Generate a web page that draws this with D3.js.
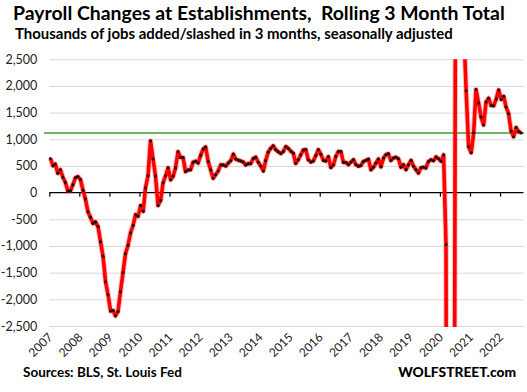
<!DOCTYPE html>
<html>
<head>
<meta charset="utf-8">
<script src="https://cdn.jsdelivr.net/npm/d3@7/dist/d3.min.js"></script>
<style>
  html, body { margin: 0; padding: 0; background: #fff; }
  svg { display: block; }
  text { font-family: Lato, "Open Sans", "DejaVu Sans", sans-serif; }
</style>
</head>
<body>
<svg id="chart" width="527" height="392"></svg>
<script>
// ---- Data (thousands of jobs, rolling 3-month total, monthly from Jan 2007) ----
const startYear = 2007;
const startMonth = 0; // January
const rolling3MonthTotal = [
  // 2007
  640, 505, 535, 365, 430, 290, 195, 30, 35, 150, 280, 300,
  // 2008
  245, 45, -120, -360, -460, -575, -548, -635, -920, -1192, -1670, -1915,
  // 2009
  -2220, -2210, -2310, -2228, -1860, -1495, -1145, -985, -755, -615, -412, -444,
  // 2010
  -243, -350, 88, 318, 970, 630, 310, -240, -145, 185, 318, 465,
  // 2011
  240, 310, 462, 768, 660, 658, 395, 425, 430, 572, 590, 555,
  // 2012
  700, 818, 858, 585, 430, 270, 336, 408, 520, 520, 500, 555,
  // 2013
  600, 722, 630, 610, 595, 575, 520, 545, 545, 642, 665, 570,
  // 2014
  498, 408, 600, 760, 830, 878, 805, 765, 735, 770, 865, 830,
  // 2015
  778, 738, 550, 615, 705, 798, 808, 618, 575, 592, 695, 805,
  // 2016
  720, 605, 592, 675, 472, 520, 680, 772, 770, 568, 566, 526,
  // 2017
  575, 618, 526, 495, 510, 585, 605, 628, 430, 475, 555, 630,
  // 2018
  485, 648, 712, 728, 605, 650, 662, 636, 476, 524, 432, 524,
  // 2019
  605, 495, 432, 368, 465, 476, 463, 585, 615, 600, 670, 637,
  // 2020
  590, 708, -970, -21887, -19343, -12814, 9405, 8155, 4252, 3158, 1910, 861,
  // 2021
  749, 1124, 1934, 1682, 1418, 1270, 1700, 1770, 1633, 1628, 1755, 1925,
  // 2022
  1748, 1805, 1608, 1480, 1157, 1050, 1220, 1147, 1118
];
const yearLabels = ["2007","2008","2009","2010","2011","2012","2013","2014","2015",
                    "2016","2017","2018","2019","2020","2021","2022"];
const yTickValues = [-2500, -2000, -1500, -1000, -500, 0, 500, 1000, 1500, 2000, 2500];
const titleText = "Payroll Changes at Establishments,\u00a0 Rolling 3 Month Total";
const subtitleText = "Thousands of jobs added/slashed in 3 months, seasonally adjusted";
const sourceText = "Sources: BLS, St. Louis Fed";
const brandText = "WOLFSTREET.com";

// ---- Layout ----
const svg = d3.select("#chart");
const plotLeft = 49.3, plotRight = 522.5, plotTop = 59.3, plotBottom = 326;

const points = rolling3MonthTotal.map((v, i) => ({
  date: new Date(startYear, startMonth + i, 15),
  value: v
}));

const x = d3.scaleTime()
  .domain([new Date(2007, 0, 1), new Date(2022, 9, 1)])
  .range([plotLeft, plotRight]);
const y = d3.scaleLinear()
  .domain([-2500, 2500])
  .range([plotBottom, plotTop]);

const fmt = d => d3.format(",")(d).replace("\u2212", "-");

// gridlines
const grid = svg.append("g")
  .attr("transform", `translate(${plotLeft},0)`)
  .call(d3.axisLeft(y).tickValues(yTickValues.filter(v => v !== 0))
    .tickSize(-(plotRight + 1 - plotLeft)).tickFormat(""));
grid.select(".domain").remove();
grid.selectAll(".tick line").attr("stroke", "#d9d9d9").attr("stroke-width", 1);

// y labels
const yAxis = svg.append("g")
  .attr("transform", `translate(${plotLeft - 12},0)`)
  .call(d3.axisLeft(y).tickValues(yTickValues).tickSize(0).tickPadding(0).tickFormat(fmt));
yAxis.select(".domain").remove();
yAxis.selectAll("text")
  .attr("font-size", 12.5)
  .attr("fill", "#222")
  .attr("font-family", "Lato, sans-serif");

// zero axis with ticks
const yearDates = yearLabels.map(s => new Date(+s, 0, 1));
const xAxis = svg.append("g")
  .attr("transform", `translate(0,${y(0)})`)
  .call(d3.axisBottom(x).tickValues(yearDates).tickSize(4).tickSizeOuter(0).tickFormat(""));
xAxis.select(".domain").attr("stroke", "#000").attr("stroke-width", 1.4)
  .attr("d", `M${plotLeft},0H${plotRight + 1}`);
xAxis.selectAll(".tick line").attr("stroke", "#000").attr("stroke-width", 1.2);

// year labels at bottom, rotated
svg.append("g").selectAll("text")
  .data(yearLabels)
  .join("text")
  .attr("transform", d => `translate(${x(new Date(+d, 0, 1)) + 4},${plotBottom + 12}) rotate(-45)`)
  .attr("text-anchor", "end")
  .attr("font-size", 12)
  .attr("fill", "#222")
  .text(d => d);

// reference line at latest value
const lastValue = rolling3MonthTotal[rolling3MonthTotal.length - 1];
svg.append("line")
  .attr("x1", 44).attr("x2", 524)
  .attr("y1", y(lastValue)).attr("y2", y(lastValue))
  .attr("stroke", "#38a038").attr("stroke-width", 1.5);

// clip
svg.append("clipPath").attr("id", "plotclip")
  .append("rect")
  .attr("x", plotLeft - 5).attr("y", plotTop)
  .attr("width", plotRight - plotLeft + 10).attr("height", plotBottom - plotTop + 1);

const line = d3.line().x(d => x(d.date)).y(d => y(d.value)).curve(d3.curveLinear);
const g = svg.append("g").attr("clip-path", "url(#plotclip)");
g.append("path").datum(points)
  .attr("d", line).attr("fill", "none")
  .attr("stroke", "rgba(255,0,0,0.25)").attr("stroke-width", 5.5)
  .attr("stroke-linejoin", "round");
g.append("path").datum(points)
  .attr("d", line).attr("fill", "none")
  .attr("stroke", "#ff0000").attr("stroke-width", 3.6)
  .attr("stroke-linejoin", "round");
g.selectAll("circle").data(points).join("circle")
  .attr("cx", d => x(d.date)).attr("cy", d => y(d.value))
  .attr("r", 1.5).attr("fill", "#111");

// texts
function fitWidth(sel, target) {
  const w = sel.node().getComputedTextLength();
  const fs = parseFloat(sel.attr("font-size"));
  sel.attr("font-size", fs * target / w);
}
const title = svg.append("text").attr("x", 13).attr("y", 19.5)
  .attr("font-size", 20).attr("font-weight", "bold").attr("fill", "#000")
  .text(titleText);
fitWidth(title, 492);
const sub = svg.append("text").attr("x", 15).attr("y", 39)
  .attr("font-size", 14).attr("font-weight", "bold").attr("fill", "#000")
  .text(subtitleText);
fitWidth(sub, 438);
const src = svg.append("text").attr("x", 23).attr("y", 377)
  .attr("font-size", 13).attr("font-weight", "bold").attr("fill", "#000")
  .text(sourceText);
fitWidth(src, 159);
const brand = svg.append("text").attr("x", 516).attr("y", 377)
  .attr("text-anchor", "end")
  .attr("font-size", 13).attr("font-weight", "900").attr("fill", "#000")
  .text(brandText);
fitWidth(brand, 118);
</script>
</body>
</html>
